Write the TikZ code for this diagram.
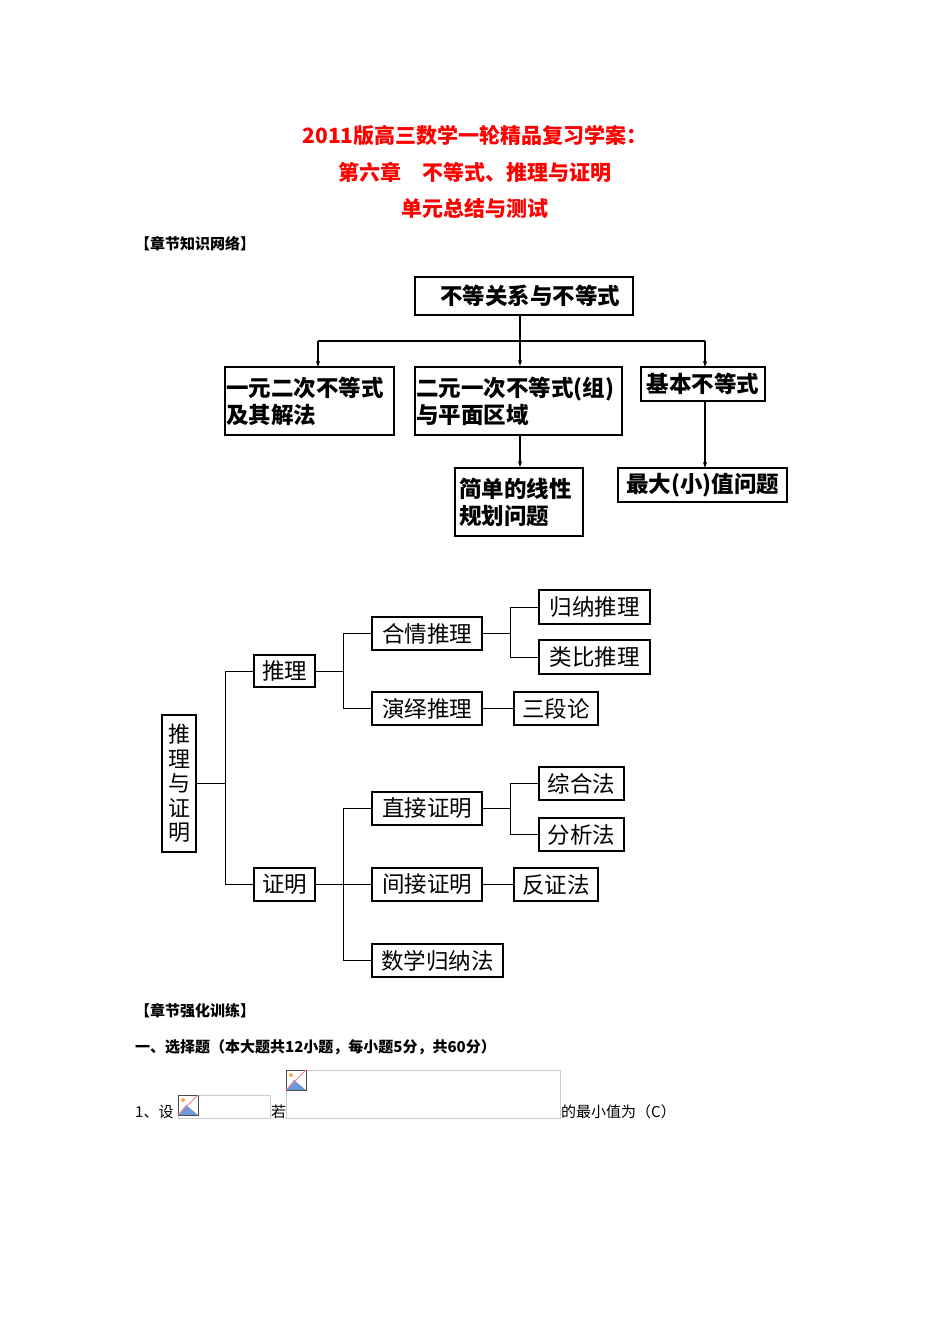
\documentclass[tikz,border=0pt]{standalone}
\usepackage{fontspec}
\setmainfont{Liberation Serif}
\newfontfamily\cjk{Noto Sans CJK SC}
\usetikzlibrary{arrows.meta}
\begin{document}
\begin{tikzpicture}[x=1pt,y=-1pt,
  bx/.style={draw,line width=1.6pt,inner sep=0pt,font=\cjk\bfseries\fontsize{22.5}{27}\selectfont},
  lb/.style={draw,line width=1.3pt,inner sep=0pt,font=\cjk\fontsize{22.5}{24}\selectfont},
  ar/.style={line width=1.4pt,-{Stealth[length=6pt,width=4pt]}},
  ln/.style={line width=0.9pt},
  txt/.style={anchor=west,inner sep=0pt,font=\cjk\fontsize{15}{18}\selectfont}]
\useasboundingbox (0,0) rectangle (950,1344);
% titles
\foreach \t/\y [count=\i] in {2011版高三数学一轮精品复习学案：/136,第六章\quad 不等式、推理与证明/172,单元总结与测试/208}
  \node[text=red,font=\cjk\bfseries\fontsize{21}{24}\selectfont] (t\i) at (475,\y) {\t};
\node[txt,font=\cjk\bfseries\fontsize{15}{18}\selectfont] (h1) at (135,244) {【章节知识网络】};
% top tree
\node[bx,minimum width=218pt,minimum height=38pt] (root) at (524,296) {\hspace{12pt}不等关系与不等式};
\node[bx,minimum width=169pt,minimum height=68pt,align=left,text width=167pt] (a) at (309.5,401) {一元二次不等式\\及其解法};
\node[bx,minimum width=207pt,minimum height=68pt,align=left,text width=205pt] (b) at (518.5,401) {二元一次不等式(组)\\与平面区域};
\node[bx,minimum width=124pt,minimum height=34pt] (c) at (703,384) {基本不等式};
\node[bx,minimum width=128pt,minimum height=68pt,align=left,text width=120pt] (d) at (519,502) {简单的线性\\规划问题};
\node[bx,minimum width=169pt,minimum height=34pt] (e) at (702.5,485) {最大(小)值问题};
\coordinate (bus) at (520,341);
\draw[line width=1.6pt] (root.south -| bus) -- (bus);
\draw[line width=1.6pt] (318,341) -- (705,341);
\draw[ar] (318,341) -- (318,367);
\draw[ar] (bus) -- (bus |- b.north);
\draw[ar] (705,341) -- (705,367);
\draw[ar] (b.south -| bus) -- (bus |- d.north);
\draw[ar] (c.south -| 705,0) -- (705,468);
% lower tree
\node[lb,minimum width=34pt,minimum height=137pt,align=center,font=\cjk\fontsize{22}{24.5}\selectfont] (m) at (179,783.5) {推\\理\\与\\证\\明};
\node[lb,minimum width=61pt,minimum height=32pt] (tl) at (284.5,671) {推理};
\node[lb,minimum width=61pt,minimum height=33pt] (zm) at (284.5,884.5) {证明};
\node[lb,minimum width=110pt,minimum height=33pt] (hq) at (427,633.5) {合情推理};
\node[lb,minimum width=110pt,minimum height=33pt] (yy) at (427,708.5) {演绎推理};
\node[lb,minimum width=111pt,minimum height=34pt] (gn) at (594.5,607) {归纳推理};
\node[lb,minimum width=111pt,minimum height=34pt] (lbt) at (594.5,657) {类比推理};
\node[lb,minimum width=84pt,minimum height=33pt] (sd) at (556,708.5) {三段论};
\node[lb,minimum width=110pt,minimum height=33pt] (zj) at (427,808.5) {直接证明};
\node[lb,minimum width=110pt,minimum height=33pt] (jj) at (427,884.5) {间接证明};
\node[lb,minimum width=131pt,minimum height=33pt] (sx) at (437.5,960.5) {数学归纳法};
\node[lb,minimum width=85pt,minimum height=33pt] (zh) at (581.5,783.5) {综合法};
\node[lb,minimum width=85pt,minimum height=33pt] (fx) at (581.5,834.5) {分析法};
\node[lb,minimum width=84pt,minimum height=33pt] (fz) at (556,884.5) {反证法};
\draw[ln] (m.east) -- (225,783.5);
\draw[ln] (225,671) |- (zm.west); \draw[ln] (225,671) -- (tl.west);
\draw[ln] (tl.east) -- (343,671);
\draw[ln] (hq.west) -| (343,708.5) -- (yy.west);
\draw[ln] (hq.east) -- (510,633.5);
\draw[ln] (gn.west) -| (510,657) -- (lbt.west);
\draw[ln] (yy.east) -- (sd.west);
\draw[ln] (zm.east) -- (jj.west);
\draw[ln] (zj.west) -| (343,960.5) -- (sx.west);
\draw[ln] (zj.east) -- (510,808.5);
\draw[ln] (zh.west) -| (510,834.5) -- (fx.west);
\draw[ln] (jj.east) -- (fz.west);
% bottom text
\node[txt,font=\cjk\bfseries\fontsize{15}{18}\selectfont] (h2) at (135,1011) {【章节强化训练】};
\node[txt,font=\cjk\bfseries\fontsize{15}{18}\selectfont] (q) at (135,1047) {一、选择题（本大题共12小题，每小题5分，共60分）};
\node[txt] (q1) at (135,1112) {1、设};
\draw[gray!40] (178,1095) rectangle (270,1118);
\node[txt] (ruo) at (271,1112) {若};
\draw[gray!40] (286,1070) rectangle (560,1118);
\node[txt] (rest) at (561,1112) {的最小值为（C）};
\foreach \px/\py in {178/1095,286/1070}{
  \fill[cyan!50!blue!60] (\px,\py+20) -- (\px+8,\py+10) -- (\px+20,\py+20) -- cycle;
  \draw[black!70] (\px,\py) rectangle (\px+20,\py+20);
  \fill[orange!70] (\px+5,\py+5) circle (2);
  \draw[red!50,line width=1pt] (\px,\py+20) -- (\px+20,\py);}
\end{tikzpicture}
\end{document}
